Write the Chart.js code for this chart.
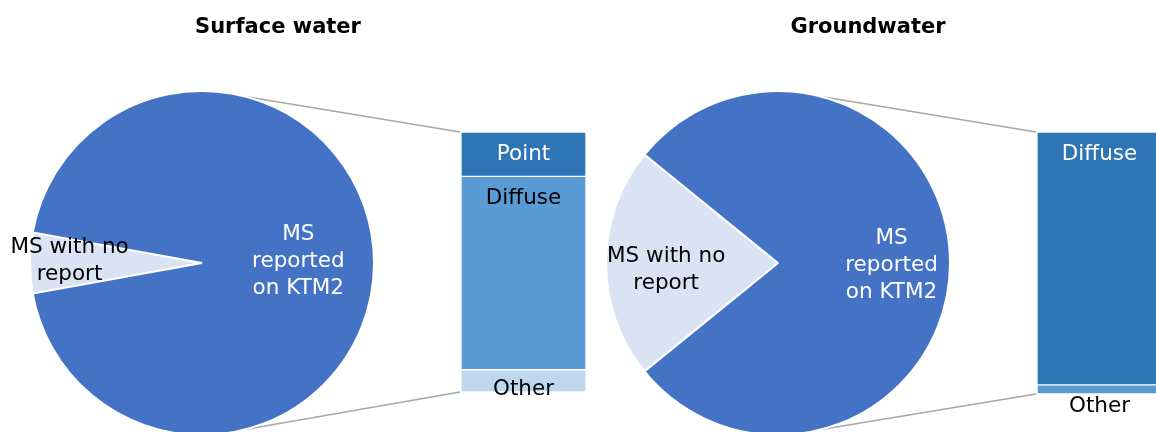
<!DOCTYPE html>
<html>
<head>
<meta charset="utf-8">
<script src="https://cdn.jsdelivr.net/npm/chart.js@4.4.1/dist/chart.umd.min.js"></script>
<style>
  html, body { margin: 0; padding: 0; background: #fff; }
  #page { position: relative; width: 1156px; height: 432px; overflow: hidden; font-family: "DejaVu Sans", Verdana, sans-serif; }
  .title { position: absolute; top: 15px; line-height: 22px; font-size: 21px; font-weight: bold; transform: translateX(-50%); white-space: nowrap; color: #000; }
  canvas { position: absolute; }
</style>
</head>
<body>
<div id="page">
  <canvas id="links" width="1156" height="432" style="left:0;top:0"></canvas>
  <div class="title" style="left:278px">Surface water</div>
  <div class="title" style="left:868px">Groundwater</div>
  <canvas id="swPie" width="420" height="346" style="left:0;top:90px"></canvas>
  <canvas id="swBar" width="125" height="290" style="left:461px;top:132px"></canvas>
  <canvas id="gwPie" width="420" height="346" style="left:576px;top:90px"></canvas>
  <canvas id="gwBar" width="125" height="292" style="left:1037px;top:132px"></canvas>
</div>
<script>
// Pie slices: MS with no report / MS reported on KTM2 (share of MS, %)
const pieLabels = [['MS with no', 'report'], ['MS', 'reported', 'on KTM2']];
const surfacePie = [5.7, 94.3];
const groundPie = [21.7, 78.3];

// Bar breakdown of reported measures (%), stacked bottom to top
const surfaceBarLabels = ['Other', 'Diffuse', 'Point'];
const surfaceBar = [8.5, 74, 17];
const groundBarLabels = ['Other', 'Diffuse'];
const groundBar = [3.5, 96.5];

const FONT = '21.5px "DejaVu Sans", Verdana, sans-serif';

// text inside pie slices, placed along the slice's mid angle
const pieText = {
  id: 'pieText',
  afterDatasetsDraw(chart, args, opts) {
    const ctx = chart.ctx;
    const meta = chart.getDatasetMeta(0);
    ctx.save();
    ctx.font = FONT;
    ctx.textAlign = 'center';
    ctx.textBaseline = 'middle';
    meta.data.forEach((arc, i) => {
      const mid = (arc.startAngle + arc.endAngle) / 2;
      const r = arc.outerRadius * opts.radius[i];
      const x = arc.x + Math.cos(mid) * r;
      const y = arc.y + Math.sin(mid) * r + opts.dy[i];
      const lines = chart.data.labels[i];
      ctx.fillStyle = opts.colors[i];
      lines.forEach((l, k) => ctx.fillText(l, x, y + (k - (lines.length - 1) / 2) * 27));
    });
    ctx.restore();
  }
};

// text on bar segments
const barText = {
  id: 'barText',
  afterDatasetsDraw(chart) {
    const ctx = chart.ctx;
    ctx.save();
    ctx.font = FONT;
    ctx.textAlign = 'center';
    ctx.textBaseline = 'middle';
    chart.data.datasets.forEach((ds, i) => {
      const bar = chart.getDatasetMeta(i).data[0];
      const top = bar.y, bottom = bar.base;
      let y = (top + bottom) / 2;
      if (ds.labelPlace === 'top') y = top + 22;
      if (ds.labelPlace === 'bottom') y = bottom - 3;
      if (ds.labelPlace === 'below') y = bottom + 12;
      ctx.fillStyle = ds.labelColor;
      ctx.fillText(ds.label, bar.x, y);
    });
    ctx.restore();
  }
};

function makePie(id, values, labelRadius, labelDy) {
  const total = values.reduce((a, b) => a + b, 0);
  // centre the small slice on the left side
  const rotation = 270 - (values[0] / total) * 180;
  return new Chart(document.getElementById(id), {
    type: 'pie',
    data: {
      labels: pieLabels,
      datasets: [{
        data: values,
        backgroundColor: ['#dae3f3', '#4472c4'],
        borderColor: '#ffffff',
        borderWidth: 2
      }]
    },
    options: {
      responsive: false,
      animation: false,
      devicePixelRatio: 1,
      rotation: rotation,
      layout: { padding: { left: 29, right: 45, top: 0, bottom: 0 } },
      plugins: {
        legend: { display: false },
        tooltip: { enabled: false },
        pieText: { radius: labelRadius, dy: labelDy, colors: ['#000000', '#ffffff'] }
      }
    },
    plugins: [pieText]
  });
}

function makeBar(id, labels, values, colors, textColors, places) {
  const total = values.reduce((a, b) => a + b, 0);
  return new Chart(document.getElementById(id), {
    type: 'bar',
    data: {
      labels: [''],
      datasets: values.map((v, i) => ({
        label: labels[i],
        data: [v],
        backgroundColor: colors[i],
        borderColor: '#ffffff',
        borderWidth: 1,
        borderSkipped: false,
        barPercentage: 1,
        categoryPercentage: 1,
        labelColor: textColors[i],
        labelPlace: places[i]
      }))
    },
    options: {
      responsive: false,
      animation: false,
      devicePixelRatio: 1,
      layout: { padding: { bottom: 30 } },
      plugins: { legend: { display: false }, tooltip: { enabled: false } },
      scales: {
        x: { display: false, stacked: true },
        y: { display: false, stacked: true, min: 0, max: total }
      }
    },
    plugins: [barText]
  });
}

const swPie = makePie('swPie', surfacePie, [0.77, 0.56], [-2, -2]);
const gwPie = makePie('gwPie', groundPie, [0.65, 0.66], [7, 2]);

const swBar = makeBar('swBar', surfaceBarLabels, surfaceBar,
  ['#bdd7ee', '#5b9bd5', '#2e75b6'], ['#000000', '#000000', '#ffffff'],
  ['bottom', 'top', 'center']);
const gwBar = makeBar('gwBar', groundBarLabels, groundBar,
  ['#5b9bd5', '#2e75b6'], ['#000000', '#ffffff'],
  ['below', 'top']);

// connector lines from the pie to the bar
const linkCtx = document.getElementById('links').getContext('2d');
function drawLinks(pie, bar) {
  const arc = pie.getDatasetMeta(0).data[0];
  const pc = pie.canvas, bc = bar.canvas;
  const cx = pc.offsetLeft + arc.x, cy = pc.offsetTop + arc.y, r = arc.outerRadius;
  const a = 14.5 * Math.PI / 180;
  const sx = cx + Math.sin(a) * r;
  const topBar = bar.getDatasetMeta(bar.data.datasets.length - 1).data[0];
  const botBar = bar.getDatasetMeta(0).data[0];
  const bx = bc.offsetLeft + topBar.x - topBar.width / 2 - 1;
  linkCtx.beginPath();
  linkCtx.moveTo(sx, cy - Math.cos(a) * r);
  linkCtx.lineTo(bx, bc.offsetTop + topBar.y);
  linkCtx.moveTo(sx, cy + Math.cos(a) * r);
  linkCtx.lineTo(bx, bc.offsetTop + botBar.base);
  linkCtx.strokeStyle = '#a6a6a6';
  linkCtx.lineWidth = 1.5;
  linkCtx.stroke();
}
drawLinks(swPie, swBar);
drawLinks(gwPie, gwBar);
</script>
</body>
</html>
